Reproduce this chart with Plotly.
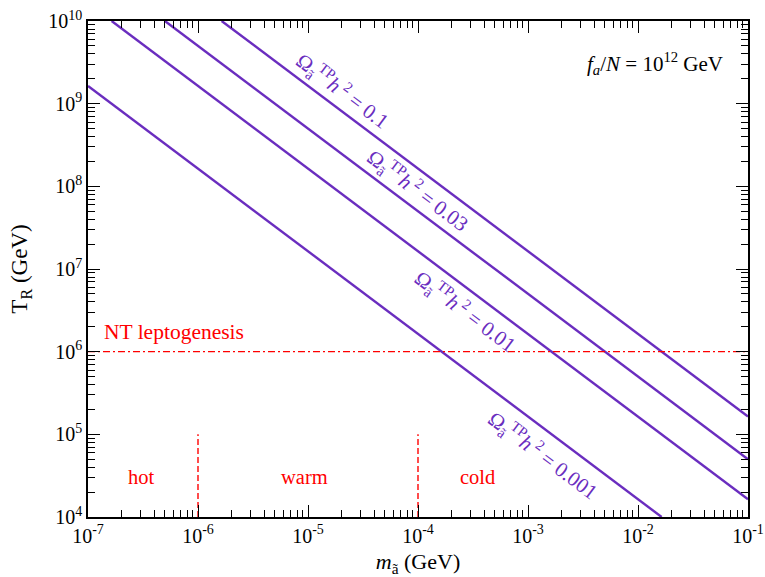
import plotly.graph_objects as go

# Axino relic density contours (thermal production), read as line endpoints
omega_labels = ["0.1", "0.03", "0.01", "0.001"]
line_m = [
    [1.64e-6, 1e-1],
    [5.0e-7, 1e-1],
    [1.64e-7, 1e-1],
    [1e-7, 1.64e-2],
]
line_T = [
    [1e10, 1.64e5],
    [1e10, 5.0e4],
    [1e10, 1.64e4],
    [1.64e9, 1e4],
]
# label centres (log10 m, log10 T)
label_pos = [(-4.69, 9.16), (-4.0, 7.95), (-3.57, 6.48), (-2.86, 4.75)]

# reference levels
T_leptogenesis = 1e6
m_boundaries = [1e-6, 1e-4]
boundary_T = [1e4, 1e5]
regions = ["hot", "warm", "cold"]
region_logm = [-6.51, -5.03, -3.46]

xtick_exp = [-7, -6, -5, -4, -3, -2, -1]
ytick_exp = [4, 5, 6, 7, 8, 9, 10]

PURPLE = "#6a2dbf"
RED = "#ff0000"
FONT = "Liberation Serif, Times New Roman, serif"

fig = go.Figure()

for m, T in zip(line_m, line_T):
    fig.add_trace(go.Scatter(x=m, y=T, mode="lines",
                             line=dict(color=PURPLE, width=2.4),
                             showlegend=False, hoverinfo="skip"))

fig.add_trace(go.Scatter(x=[1e-7, 1e-1], y=[T_leptogenesis, T_leptogenesis],
                         mode="lines",
                         line=dict(color=RED, width=1.3, dash="7px,3px,2px,3px"),
                         showlegend=False, hoverinfo="skip"))

for mb in m_boundaries:
    fig.add_trace(go.Scatter(x=[mb, mb], y=boundary_T, mode="lines",
                             line=dict(color=RED, width=1.4, dash="6px,3px"),
                             showlegend=False, hoverinfo="skip"))

annotations = []
for lab, (lx, ly) in zip(omega_labels, label_pos):
    annotations.append(dict(
        x=lx, y=ly, xref="x", yref="y", showarrow=False,
        text="Ω<sub>ã</sub><sup>TP</sup><i>h</i><sup> 2</sup> = " + lab,
        textangle=36.9, font=dict(family=FONT, size=21, color=PURPLE)))

annotations.append(dict(x=-6.87, y=6.24, xref="x", yref="y", showarrow=False,
                        xanchor="left", text="NT leptogenesis",
                        font=dict(family=FONT, size=21.5, color=RED)))
for r, lx in zip(regions, region_logm):
    annotations.append(dict(x=lx, y=4.48, xref="x", yref="y", showarrow=False,
                            text=r, font=dict(family=FONT, size=20.5, color=RED)))
annotations.append(dict(x=0.965, y=0.915, xref="paper", yref="paper",
                        xanchor="right", yanchor="middle", showarrow=False,
                        text="<i>f<sub>a</sub></i>/<i>N</i> = 10<sup>12</sup> GeV",
                        font=dict(family=FONT, size=21, color="black")))

axis_common = dict(
    type="log", showgrid=False, zeroline=False, automargin=False,
    showline=True, linecolor="black", linewidth=1.6, mirror="allticks",
    ticks="inside", ticklen=12, tickwidth=1.3, tickcolor="black",
    minor=dict(ticks="inside", ticklen=7, tickwidth=1.1, tickcolor="black",
               dtick="D1", showgrid=False),
    tickfont=dict(family=FONT, size=20, color="black"),
)

fig.update_xaxes(**axis_common, range=[-7, -1],
                 tickvals=[10 ** e for e in xtick_exp],
                 ticktext=["10<sup>%d</sup>" % e for e in xtick_exp],
                 title=dict(text="<i>m</i><sub>ã</sub> (GeV)", standoff=12,
                            font=dict(family=FONT, size=22, color="black")))
fig.update_yaxes(**axis_common, range=[4, 10],
                 tickvals=[10 ** e for e in ytick_exp],
                 ticktext=["10<sup>%d</sup>" % e for e in ytick_exp],
                 title=dict(text="T<sub>R</sub> (GeV)", standoff=14,
                            font=dict(family=FONT, size=23, color="black")))

fig.update_layout(
    width=765, height=577,
    margin=dict(l=88, r=17, t=21, b=60),
    plot_bgcolor="white", paper_bgcolor="white",
    annotations=annotations,
)

fig.write_html("out.html")
